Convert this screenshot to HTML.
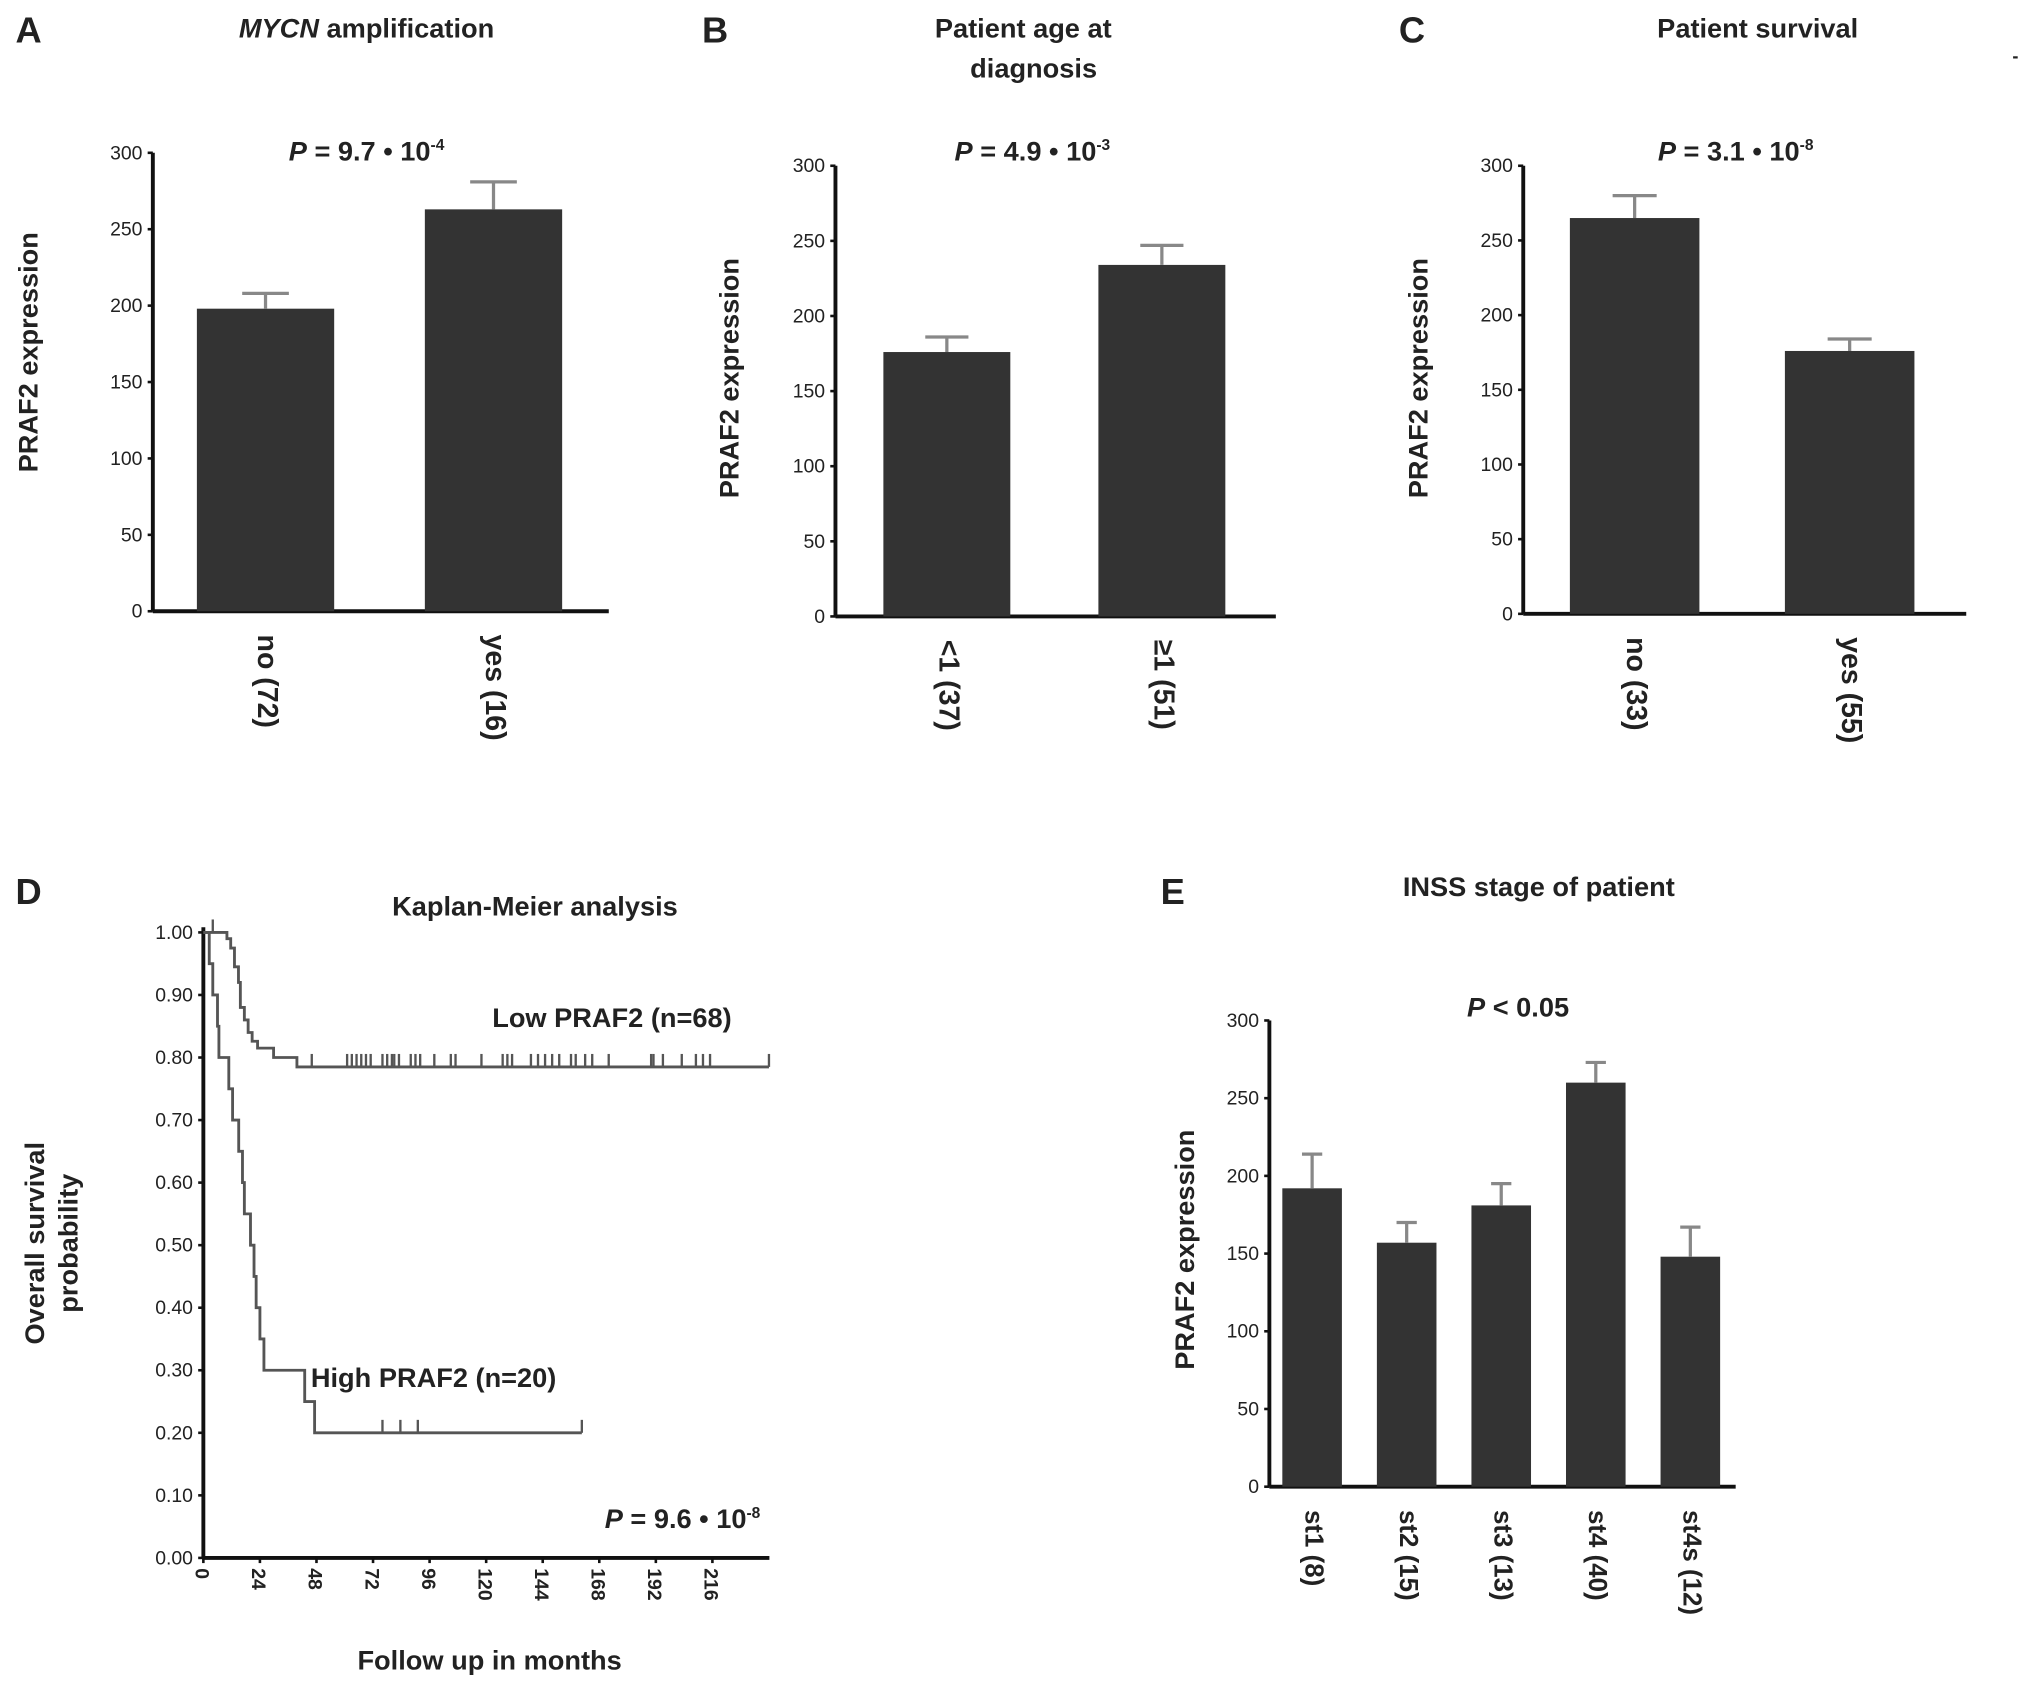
<!DOCTYPE html>
<html><head><meta charset="utf-8">
<style>
html,body{margin:0;padding:0;background:#fff;}
svg{display:block;font-family:"Liberation Sans",Arial,sans-serif;}
.t{font-weight:bold;fill:#222;}
.tick{font-size:15px;fill:#222;}
</style></head>
<body>
<svg id="fig" width="2031" height="1690" viewBox="0 0 1568 1305" preserveAspectRatio="none" xmlns="http://www.w3.org/2000/svg">
<g id="root"></g>
</svg>
<script>
// ---- Data ----
const aCats = ["no  (72)", "yes  (16)"];
const aVals = [198, 263];
const aErrs = [208, 281];
const bCats = ["<1  (37)", "\u22651  (51)"];
const bVals = [176, 234];
const bErrs = [186, 247];
const cCats = ["no  (33)", "yes  (55)"];
const cVals = [265, 176];
const cErrs = [280, 184];
const eCats = ["st1 (8)", "st2 (15)", "st3 (13)", "st4 (40)", "st4s (12)"];
const eVals = [192, 157, 181, 260, 148];
const eErrs = [214, 170, 195, 273, 167];
const barTicks = [0, 50, 100, 150, 200, 250, 300];
const kmYTicks = [0, 0.1, 0.2, 0.3, 0.4, 0.5, 0.6, 0.7, 0.8, 0.9, 1.0];
const kmXTicks = [0, 24, 48, 72, 96, 120, 144, 168, 192, 216];
const lowTimes = [0, 2, 10, 11.6, 13.2, 14.9, 15.7, 17.4, 19, 20.7, 23, 29.8, 39.7, 240];
const lowSurv  = [1, 1, 0.99, 0.975, 0.945, 0.92, 0.88, 0.86, 0.84, 0.826, 0.815, 0.80, 0.785, 0.785];
const lowCensor = [4, 46, 61, 63, 65, 67, 69, 71, 76, 78, 80, 81, 83, 88, 90, 92, 98, 105, 107, 118, 127, 129, 131, 139, 142, 145, 148, 151, 156, 158, 162, 165, 172, 190, 191, 195, 203, 209, 212, 215, 240];
const highTimes = [0, 2.5, 4, 6, 6.6, 10.8, 12.4, 15, 16.6, 17.4, 20, 21.5, 22.4, 24, 25.7, 43, 47.2, 160.6];
const highSurv  = [1, 0.95, 0.90, 0.85, 0.80, 0.75, 0.70, 0.65, 0.60, 0.55, 0.50, 0.45, 0.40, 0.35, 0.30, 0.25, 0.20, 0.20];
const highCensor = [76, 83.6, 91, 160.6];

const NS = "http://www.w3.org/2000/svg";
const root = document.getElementById('root');
function mk(tag, attrs, parent, text) {
  const el = document.createElementNS(NS, tag);
  for (const k in attrs) el.setAttribute(k, attrs[k]);
  if (text !== undefined) el.textContent = text;
  (parent || root).appendChild(el);
  return el;
}

function barPanel(o) {
  const g = mk('g', {});
  
  
  const y = v => o.y0 - (v / 300) * (o.y0 - o.y300);
  const ax = mk('line', {x1: o.ax, y1: o.y300, x2: o.ax, y2: o.y0, stroke: '#111', 'stroke-width': 3}, g);
  
  
  const xx = mk('line', {x1: o.ax, y1: o.y0, x2: o.axEnd, y2: o.y0, stroke: '#111', 'stroke-width': 3}, g);
  
  
  barTicks.forEach(t => {
    mk('line', {x1: o.ax - 4, y1: y(t), x2: o.ax, y2: y(t), stroke: '#111', 'stroke-width': 2}, g);
    const tl = mk('text', {x: o.ax - 8, y: y(t) + 5, 'text-anchor': 'end', class: 'tick'}, g, t);
    
    
  });
  o.vals.forEach((v, i) => {
    const cx = o.x0 + i * o.step;
    const b = mk('rect', {x: cx - o.bw / 2, y: y(v), width: o.bw, height: o.y0 - y(v), fill: '#333'}, g);
    
    
    const e = mk('path', {d: `M${cx},${y(v)}V${y(o.errs[i])}M${cx - o.bw * 0.17},${y(o.errs[i])}H${cx + o.bw * 0.17}`, stroke: '#888', 'stroke-width': 2.5, fill: 'none'}, g);
    
    
    const l = mk('text', {x: cx, y: o.y0 + 18, transform: `rotate(90 ${cx} ${o.y0 + 18})`, class: 't', 'font-size': o.lfs || 22, 'dominant-baseline': 'middle', 'xml:space': 'preserve'}, g, o.cats[i]);
    
    
  });
  const yt = mk('text', {x: o.ytx, y: o.yty, transform: `rotate(-90 ${o.ytx} ${o.yty})`, 'text-anchor': 'middle', class: 't', 'font-size': 21, 'xml:space': 'preserve'}, g, 'PRAF2  expression');
  
  
}

barPanel({name: 'panel-a-chart', ax: 118, axEnd: 470, y0: 472, y300: 118, x0: 205, step: 176, bw: 106, vals: aVals, errs: aErrs, cats: aCats, ytx: 29, yty: 272});
barPanel({name: 'panel-b-chart', ax: 645, axEnd: 985, y0: 476, y300: 128, x0: 731, step: 166, bw: 98, vals: bVals, errs: bErrs, cats: bCats, ytx: 570, yty: 292});
barPanel({name: 'panel-c-chart', ax: 1176, axEnd: 1518, y0: 474, y300: 128, x0: 1262, step: 166, bw: 100, vals: cVals, errs: cErrs, cats: cCats, ytx: 1102, yty: 292});
barPanel({name: 'panel-e-chart', ax: 980, axEnd: 1340, y0: 1148, y300: 788, x0: 1013, step: 73, bw: 46, vals: eVals, errs: eErrs, cats: eCats, ytx: 922, yty: 965, lfs: 20});

// ---- KM panel ----
(function () {
  const g = mk('g', {});
  
  
  const X0 = 157, Y0 = 1203, Y1 = 720, PX = 393 / 216;
  const x = m => X0 + m * PX;
  const y = s => Y0 - s * (Y0 - Y1);
  const ya = mk('line', {x1: X0, y1: Y1 - 4, x2: X0, y2: Y0, stroke: '#111', 'stroke-width': 3}, g);
  
  
  const xa = mk('line', {x1: X0, y1: Y0, x2: 594, y2: Y0, stroke: '#111', 'stroke-width': 3}, g);
  
  
  kmYTicks.forEach(t => {
    mk('line', {x1: X0 - 4, y1: y(t), x2: X0, y2: y(t), stroke: '#111', 'stroke-width': 2}, g);
    const tl = mk('text', {x: X0 - 8, y: y(t) + 5, 'text-anchor': 'end', class: 'tick'}, g, t.toFixed(2));
    
    
  });
  kmXTicks.forEach(t => {
    mk('line', {x1: x(t), y1: Y0, x2: x(t), y2: Y0 + 4, stroke: '#111', 'stroke-width': 2}, g);
    const tl = mk('text', {x: x(t) - 6, y: Y0 + 8, transform: `rotate(90 ${x(t) - 6} ${Y0 + 8})`, class: 'tick', 'font-size': 16, 'font-weight': 'bold'}, g, t);
    
    
  });
  function curve(times, surv, cens, name) {
    let d = `M${x(times[0])},${y(surv[0])}`;
    for (let i = 1; i < times.length; i++) d += `H${x(times[i])}V${y(surv[i])}`;
    const p = mk('path', {d, fill: 'none', stroke: '#555', 'stroke-width': 2.2}, g);
    
    
    const sAt = m => { let s = surv[0]; for (let i = 0; i < times.length; i++) if (times[i] <= m) s = surv[i]; return s; };
    cens.forEach(m => {
      const c = mk('line', {x1: x(m), y1: y(sAt(m)), x2: x(m), y2: y(sAt(m)) - 10, stroke: '#555', 'stroke-width': 1.8}, g);
      
      
    });
  }
  curve(lowTimes, lowSurv, lowCensor, 'low-praf2-curve');
  curve(highTimes, highSurv, highCensor, 'high-praf2-curve');
})();

// ---- Static text ----
function txt(name, x, y, s, size, anchor, extra) {
  const t = mk('text', Object.assign({x, y, class: 't', 'font-size': size, 'text-anchor': anchor || 'middle'}, extra || {}));
  
  
  t.innerHTML = s;
  return t;
}
txt('panel-letter-a', 12, 33, 'A', 28, 'start');
txt('panel-letter-b', 542, 33, 'B', 28, 'start');
txt('panel-letter-c', 1080, 33, 'C', 28, 'start');
txt('panel-letter-d', 12, 698, 'D', 28, 'start');
txt('panel-letter-e', 896, 698, 'E', 28, 'start');
txt('title-a', 283, 29, '<tspan font-style="italic">MYCN</tspan> amplification', 21);
txt('title-b', 790, 29, 'Patient age at', 21);
txt('title-b-line2', 798, 60, 'diagnosis', 21);
txt('title-c', 1357, 29, 'Patient survival', 21);
txt('title-d', 413, 707, 'Kaplan-Meier analysis', 21);
txt('title-e', 1188, 692, 'INSS stage of patient', 21);
txt('p-value-a', 283, 124, '<tspan font-style="italic">P</tspan> = 9.7 • 10<tspan dy="-8" font-size="12">-4</tspan>', 21);
txt('p-value-b', 797, 124, '<tspan font-style="italic">P</tspan> = 4.9 • 10<tspan dy="-8" font-size="12">-3</tspan>', 21);
txt('p-value-c', 1340, 124, '<tspan font-style="italic">P</tspan> = 3.1 • 10<tspan dy="-8" font-size="12">-8</tspan>', 21);
txt('p-value-e', 1172, 785, '<tspan font-style="italic">P</tspan> &lt; 0.05', 21);
txt('p-value-d', 587, 1180, '<tspan font-style="italic">P</tspan> = 9.6 • 10<tspan dy="-8" font-size="12">-8</tspan>', 21, 'end');
txt('legend-low-praf2', 380, 793, 'Low PRAF2 (n=68)', 21, 'start');
txt('legend-high-praf2', 240, 1071, 'High PRAF2 (n=20)', 21, 'start');
txt('x-axis-title-d', 378, 1289, 'Follow up in months', 21);
txt('y-axis-title-d-line1', 34, 960, 'Overall survival', 21, 'middle', {transform: 'rotate(-90 34 960)'});
txt('y-axis-title-d-line2', 60, 960, 'probability', 21, 'middle', {transform: 'rotate(-90 60 960)'});
txt('corner-mark', 1556, 48, '-', 14, 'middle');
</script>
</body></html>
